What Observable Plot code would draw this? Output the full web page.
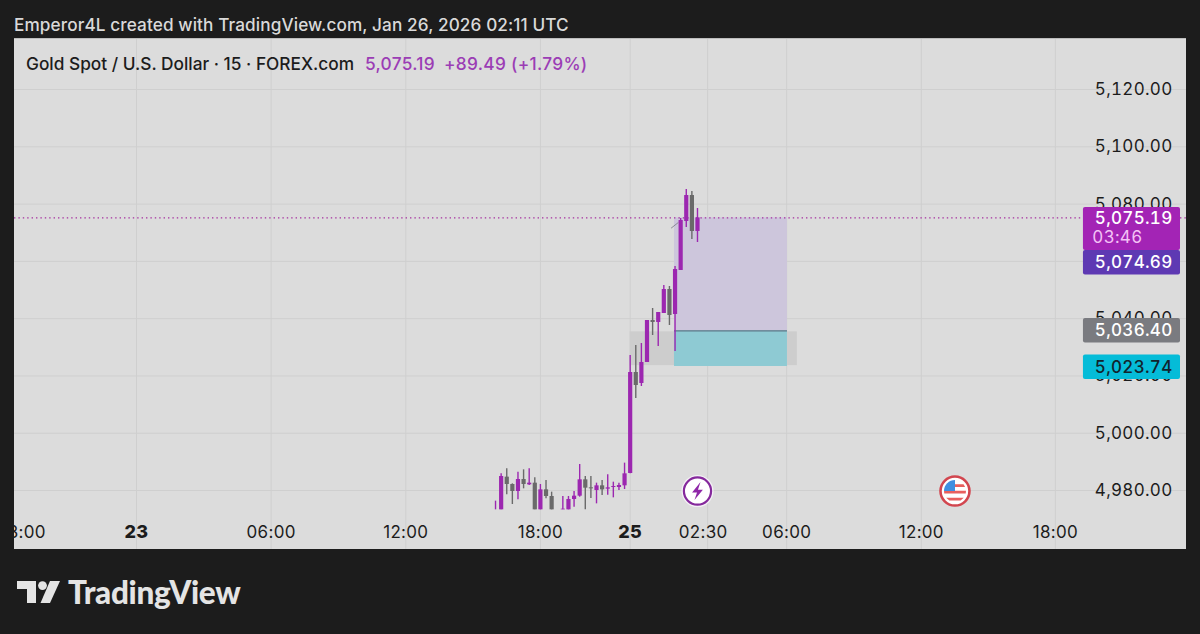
<!DOCTYPE html>
<html><head><meta charset="utf-8">
<script src="https://cdn.jsdelivr.net/npm/d3@7"></script>
<script src="https://cdn.jsdelivr.net/npm/@observablehq/plot@0.6"></script>
<style>
html,body{margin:0;padding:0;background:#1c1c1c;width:1200px;height:634px;overflow:hidden;font-family:Inter,"Open Sans",sans-serif}
#credit{position:absolute;left:14px;top:14px;color:#d9d9d9;font-size:17.2px;line-height:22px;white-space:nowrap;letter-spacing:.1px;font-weight:500}
#panel{position:absolute;left:14px;top:38px;width:1172px;height:511px;background:#dcdcdc;overflow:hidden;border-top:1px solid #bdbdbd;box-sizing:border-box}
#panel svg{display:block;position:absolute;left:0;top:-1px}
#legend{position:absolute;left:26px;top:53px;font-size:17.3px;line-height:22px;font-weight:500;color:#1c1c1c;white-space:nowrap;z-index:2}
#legend span{color:#9b3db5;position:absolute;top:0;font-weight:500;letter-spacing:.3px}
#brand{position:absolute;left:17px;top:574px;display:flex;align-items:center;color:#e4e4e4}
#brand b{font-family:Lato,Inter,sans-serif;font-size:31.5px;font-weight:900;margin-left:8px;letter-spacing:-.3px;line-height:36px}
</style></head><body>
<div id="credit">Emperor4L created with TradingView.com, Jan 26, 2026 02:11 UTC</div>
<div id="legend">Gold Spot / U.S. Dollar · 15 · FOREX.com<span style="left:339px">5,075.19</span><span style="left:418px">+89.49 (+1.79%)</span></div>
<div id="panel"></div>
<div id="brand"><svg width="43" height="22" viewBox="0 0 43 22"><path fill="#e4e4e4" d="M0 0h19v22h-9V8H0z"/><circle cx="25.5" cy="4.6" r="4.4" fill="#e4e4e4"/><path fill="#e4e4e4" d="M33 0h10L33 22h-9.5z"/></svg><b>TradingView</b></div>
<script>
const slots  = [64,65,66,67,68,69,70,71,72,73,74,76,77,78,79,80,81,82,83,84,85,86,87,88,89,90,91,92,93,94,95,96,97,98,99,100];
const opens  = [4973.25,4973.25,4984.66,4982.10,4979.65,4983.84,4981.98,4982.56,4973.25,4980.23,4977.91,4973.25,4973.25,4976.86,4978.02,4983.73,4980.93,4980.00,4981.63,4980.47,4981.05,4981.05,4981.63,4985.94,5021.20,5017.36,5024.69,5039.36,5038.66,5041.80,5050.18,5041.45,5056.82,5073.92,5083.00,5070.43];
const highs  = [4976.28,4985.82,4987.57,4982.33,4986.40,4987.22,4987.57,4984.42,4982.10,4983.49,4979.42,4977.91,4977.91,4979.65,4989.08,4984.89,4984.89,4982.56,4983.49,4985.47,4982.91,4982.56,4989.55,5027.14,5030.63,5031.33,5039.36,5043.55,5042.15,5051.58,5051.23,5058.21,5074.97,5085.10,5084.40,5078.46];
const lows   = [4973.25,4973.25,4978.49,4975.11,4976.74,4980.58,4981.75,4973.25,4973.25,4977.09,4973.25,4973.25,4973.25,4974.18,4977.67,4973.25,4977.21,4975.34,4978.26,4978.37,4977.44,4980.00,4980.35,4985.82,5012.12,5016.31,5024.69,5034.12,5030.28,5041.80,5037.61,5028.53,5056.82,5071.83,5067.64,5066.59];
const closes = [4973.25,4984.89,4982.10,4979.65,4983.84,4982.10,4982.56,4973.25,4980.23,4977.91,4973.25,4973.48,4976.86,4978.02,4983.73,4980.81,4980.58,4981.63,4980.23,4980.93,4981.40,4981.75,4985.82,5021.20,5016.66,5024.69,5039.36,5038.66,5042.15,5050.18,5041.10,5057.16,5074.27,5083.00,5070.43,5075.19];

const gridSlots  = [-24,0,24,48,72,88,101.8,115.9,139.9,163.8];
const labelSlots = [-20.2,0,24,48,72,88,101,115.9,139.9,163.8];
const labelTexts = ["18:00","23","06:00","12:00","18:00","25","02:30","06:00","12:00","18:00"];
const boldLabels = ["23","25"];
const priceTicks = [4980,5000,5020,5040,5060,5080,5100,5120];

const lastPrice = 5075.19;
const zoneLeft = 95.9, zoneRight = 116.04;
const entryPrice = 5035.7, stopPrice = 5023.3;
const greyZone = {left:88, right:117.8, top:5035.4, bottom:5023.6};

const tagLeft = 168.8, tagRight = 186.1;
const tagTops    = [5063.80,5078.81,5040.06,5027.31];
const tagBottoms = [5055.24,5063.80,5031.50,5018.76];
const tagFills   = ["#5e39b3","#a324b5","#7a7b80","#05bcd8"];
const tagPrices  = [5059.6,5074.8,5035.8,5023.0];
const tagTexts   = ["5,074.69","5,075.19","5,036.40","5,023.74"];
const tagColors  = ["#fff","#fff","#fff","#12242c"];
const countdownPrice = 5068.2, countdownText = "03:46";

const eventSlots = [100,145.9];
const eventPrice = 4979.8;

const up = "#9c27b0", down = "#6a6a6a";
const candles = slots.map((s,i)=>({s,o:opens[i],h:highs[i],l:lows[i],c:closes[i]}));
const timeLabels = labelSlots.map((s,i)=>({s,t:labelTexts[i]}));
const col = d => d.c >= d.o ? up : down;
const fmt = d3.format(",.2f");
const R = size => Math.sqrt(size/Math.PI);
const bolt = {draw(c,size){const r=R(size)/15;
  const p=[[2.5,-7.5],[-4.5,1.2],[-0.4,1.2],[-2.5,7.5],[4.5,-1.2],[0.4,-1.2]];
  c.moveTo(p[0][0]*r,p[0][1]*r);p.slice(1).forEach(q=>c.lineTo(q[0]*r,q[1]*r));c.closePath();}};
const canton = {draw(c,size){const r=R(size);c.moveTo(0,0);c.lineTo(-r,0);c.arc(0,0,r,Math.PI,1.5*Math.PI);c.closePath();}};
const stripes = {draw(c,size){const r=R(size);
  const band=(y1,y2)=>{const a=Math.sqrt(r*r-y1*y1),b=Math.sqrt(r*r-y2*y2);c.moveTo(-a,y1);c.lineTo(a,y1);c.lineTo(b,y2);c.lineTo(-b,y2);c.closePath();};
  c.moveTo(0,-r*.62);c.lineTo(r*.78,-r*.62);c.lineTo(r*.92,-r*.38);c.lineTo(0,-r*.38);c.closePath();
  band(-0.02*r,0.22*r);band(.6*r,.86*r);}};

const font = "Inter, 'Open Sans', sans-serif";
const chart = Plot.plot({
  width:1172, height:511,
  margin:0,
  style:{background:"transparent",fontFamily:font,overflow:"hidden",letterSpacing:"0.3px"},
  x:{type:"linear",domain:[-21.747,187.17],range:[0,1172],axis:null},
  y:{type:"linear",domain:[4959.40,5137.82],range:[511,0],axis:null},
  marks:[
    Plot.ruleX(gridSlots,{x:d=>d,stroke:"#cfcfcf",strokeWidth:1}),
    Plot.ruleY(priceTicks,{y:d=>d,stroke:"#cfcfcf",strokeWidth:1}),
    Plot.rect([greyZone],{x1:"left",x2:"right",y1:"bottom",y2:"top",fill:"#cdcdcd"}),
    Plot.rect([0],{x1:()=>zoneLeft,x2:()=>zoneRight,y1:()=>entryPrice,y2:()=>lastPrice,fill:"#cdc6dc"}),
    Plot.rect([0],{x1:()=>zoneLeft,x2:()=>zoneRight,y1:()=>stopPrice,y2:()=>entryPrice,fill:"#8ecad3"}),
    Plot.ruleY([entryPrice],{x1:zoneLeft,x2:zoneRight,stroke:"#5d7688",strokeWidth:1.2}),
    Plot.ruleY([lastPrice],{stroke:"#a5309f",strokeWidth:1.4,strokeDasharray:"1.4,3"}),
    Plot.link([0],{x1:()=>95.3,y1:()=>5071.6,x2:()=>96.6,y2:()=>5073.6,stroke:"#8a8a95",strokeWidth:1}),
    Plot.ruleX(candles,{x:"s",y1:"l",y2:"h",stroke:col,strokeWidth:1.4}),
    Plot.ruleX(candles,{x:"s",y1:"o",y2:"c",stroke:col,strokeWidth:4.2}),
    Plot.text(priceTicks,{y:d=>d,text:fmt,frameAnchor:"right",dx:-14,fontSize:17,fontVariant:"tabular-nums",fill:"#1c1c1c"}),
    Plot.text(timeLabels.filter(d=>!boldLabels.includes(d.t)),{x:"s",text:"t",frameAnchor:"bottom",dy:-12,fontSize:17,fill:"#1c1c1c"}),
    Plot.text(timeLabels.filter(d=>boldLabels.includes(d.t)),{x:"s",text:"t",frameAnchor:"bottom",dy:-12,fontSize:18,fontWeight:800,fill:"#1c1c1c"}),
    Plot.rect(tagTexts,{x1:()=>tagLeft,x2:()=>tagRight,y1:(d,i)=>tagBottoms[i],y2:(d,i)=>tagTops[i],
      fill:(d,i)=>tagFills[i],rx:2}),
    Plot.text(tagTexts,{x:()=>tagRight,y:(d,i)=>tagPrices[i],text:d=>d,textAnchor:"end",dx:-8,fontSize:17,
      fontVariant:"tabular-nums",fontWeight:500,fill:(d,i)=>tagColors[i]}),
    Plot.text([countdownText],{x:()=>tagRight,y:()=>countdownPrice,text:d=>d,textAnchor:"end",dx:-38,fontSize:17,fontVariant:"tabular-nums",fill:"#f3c2f5"}),
    Plot.dot([eventSlots[0]],{x:d=>d,y:()=>eventPrice,r:16,fill:"#f4f0f6"}),
    Plot.dot([eventSlots[0]],{x:d=>d,y:()=>eventPrice,r:13.6,fill:"#fff",stroke:"#85299c",strokeWidth:2.2}),
    Plot.dot([eventSlots[0]],{x:d=>d,y:()=>eventPrice,r:18,symbol:bolt,fill:"#8f27a8"}),
    Plot.dot([eventSlots[1]],{x:d=>d,y:()=>eventPrice,r:14.5,fill:"#fff",stroke:"#d2464f",strokeWidth:2.6}),
    Plot.dot([eventSlots[1]],{x:d=>d,y:()=>eventPrice,r:11,symbol:stripes,fill:"#e8605e"}),
    Plot.dot([eventSlots[1]],{x:d=>d,y:()=>eventPrice,r:11,symbol:canton,fill:"#3f8fe0"})
  ]
});
document.getElementById("panel").appendChild(chart);
</script>
</body></html>
